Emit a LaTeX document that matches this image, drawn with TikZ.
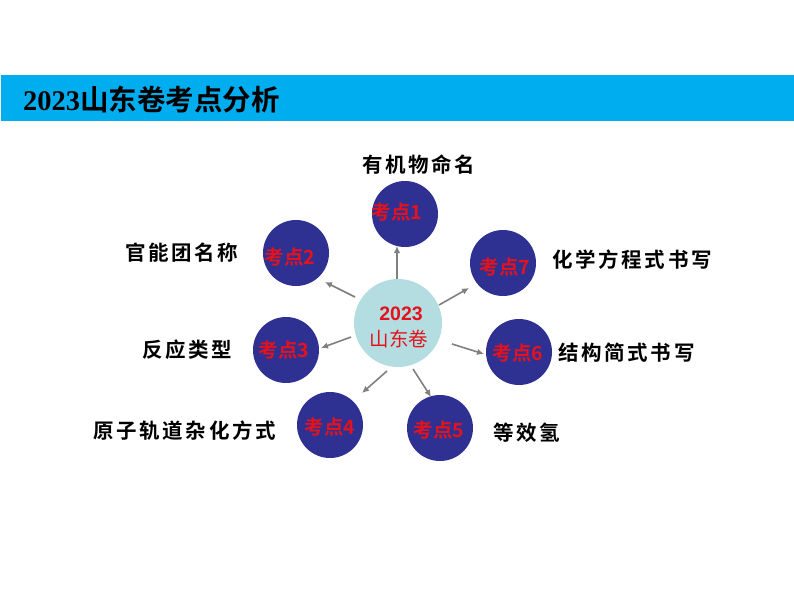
\documentclass[tikz,border=0pt]{standalone}
\usepackage{fontspec}
\usetikzlibrary{arrows.meta}
\newfontfamily\cjkb{Noto Sans CJK SC Bold}
\newfontfamily\cjkr{Noto Sans CJK SC}
\newfontfamily\serifb{Liberation Serif Bold}
\newfontfamily\sansb{Liberation Sans Bold}
\definecolor{barcyan}{RGB}{0,174,239}
\definecolor{kblue}{RGB}{46,49,146}
\definecolor{klight}{RGB}{180,221,226}
\definecolor{kred}{RGB}{228,18,28}
\definecolor{kgray}{RGB}{128,128,128}
\tikzset{
  outer/.style={circle, fill=kblue, minimum size=66pt, inner sep=0pt},
  core/.style={circle, fill=klight, minimum size=88pt, inner sep=0pt},
  klabel/.style={text=kred, font=\cjkb\fontsize{19.5}{19.5}\selectfont, inner sep=0pt},
  topic/.style={anchor=west, inner sep=0pt, font=\cjkb\fontsize{20.5}{20.5}\selectfont\addfontfeature{LetterSpace=13}},
  link/.style={draw=kgray, line width=1.6pt, -{Latex[length=7pt,width=6.5pt]}}
}
\begin{document}
\begin{tikzpicture}[x=1pt,y=-1pt]
\useasboundingbox (0,0) rectangle (794,596);
\fill[white] (0,0) rectangle (794,596);
% header
\fill[barcyan] (1,75) rectangle (794,121);
\node[anchor=west, inner sep=0pt] (title) at (23,100) {{\serifb\fontsize{28.5}{28.5}\selectfont 2023}{\cjkb\fontsize{28.5}{28.5}\selectfont 山东卷考点分析}};
% circles
\node[core] (c) at (398,323) {};
\node[outer] (k1) at (405,214) {};
\node[outer] (k2) at (296,253) {};
\node[outer] (k7) at (503,263) {};
\node[outer] (k3) at (286,350) {};
\node[outer] (k6) at (519,352) {};
\node[outer] (k4) at (330,425) {};
\node[outer] (k5) at (440,428) {};
% circle texts
\node[inner sep=0pt, text=kred, font=\sansb\fontsize{19.5}{19.5}\selectfont] (ct1) at (401,314) {2023};
\node[inner sep=0pt, text=kred, font=\cjkr\fontsize{19.5}{19.5}\selectfont] (ct2) at (399,339) {山东卷};
\node[klabel] (t1) at (397,212) {考点1};
\node[klabel] (t2) at (290,257) {考点2};
\node[klabel] (t7) at (505,267) {考点7};
\node[klabel] (t3) at (284,350) {考点3};
\node[klabel] (t6) at (518,353) {考点6};
\node[klabel] (t4) at (330,427) {考点4};
\node[klabel] (t5) at (439,430) {考点5};
% topic labels
\node[topic] (l1) at (362,165) {有机物命名};
\node[topic] (l2) at (125,253) {官能团名称};
\node[topic] (l3) at (142,350) {反应类型};
\node[topic] (l4) at (93,431) {原子轨道杂化方式};
\node[topic] (l7) at (552,260) {化学方程式书写};
\node[topic] (l6) at (558,353) {结构简式书写};
\node[topic] (l5) at (493,433) {等效氢};
% arrow ends
\coordinate (a1s) at (397,279); \coordinate (a1e) at (397,246);
\coordinate (a2s) at (355,297); \coordinate (a2e) at (325,282);
\coordinate (a7s) at (439,305); \coordinate (a7e) at (469,288);
\coordinate (a3s) at (351,337); \coordinate (a3e) at (321,348);
\coordinate (a6s) at (452,344); \coordinate (a6e) at (484,354);
\coordinate (a4s) at (387,371); \coordinate (a4e) at (362,393);
\coordinate (a5s) at (413,369); \coordinate (a5e) at (431,397);
\draw[link] (a1s) -- (a1e);
\draw[link] (a2s) -- (a2e);
\draw[link] (a7s) -- (a7e);
\draw[link] (a3s) -- (a3e);
\draw[link] (a6s) -- (a6e);
\draw[link] (a4s) -- (a4e);
\draw[link] (a5s) -- (a5e);
\end{tikzpicture}
\end{document}
